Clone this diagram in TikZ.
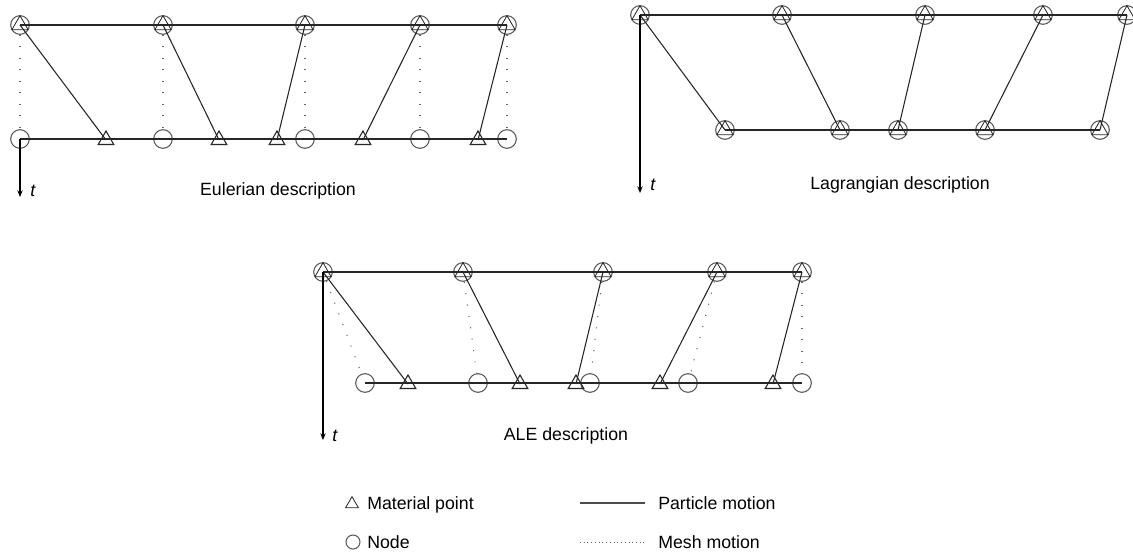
\documentclass[tikz,border=0pt]{standalone}
\usepackage{fontspec}
\setmainfont{Liberation Sans}
\usetikzlibrary{shapes.geometric, arrows.meta, positioning}
\tikzset{
    meshnode/.style={
        circle,
        draw=black!65,
        line width=0.8pt,
        minimum size=14pt,
        inner sep=0pt
    },
    matpoint/.style={
        regular polygon,
        regular polygon sides=3,
        draw=black!85,
        line width=0.8pt,
        minimum size=13.5pt,
        inner sep=0pt
    },
    inpoint/.style={
        matpoint,
        minimum size=14pt,
        line width=0.6pt
    },
    grid/.style={
        line width=1.5pt, black!85
    },
    particle/.style={
        line width=0.8pt, black!85
    },
    mesh/.style={
        black!60, line width=0.8pt, dash pattern=on 0.8pt off 7.8pt
    },
    taxis/.style={
        line width=0.9pt, -{Stealth[length=5pt,width=4pt]}
    },
    caption/.style={
        font=\fontsize{13.3}{16}\selectfont,
        inner sep=0pt
    }
}

\begin{document}
\begin{tikzpicture}[x=0.75pt, y=-0.75pt]

\path [fill=white, use as bounding box] (0,0) rectangle (1133,558);

% Eulerian description
\node (e1) [meshnode] at (20,25) {};
\node (e1p) [inpoint] at (e1) {};
\node (e2) [meshnode] at (163,25) {};
\node (e2p) [inpoint] at (e2) {};
\node (e3) [meshnode] at (305,25) {};
\node (e3p) [inpoint] at (e3) {};
\node (e4) [meshnode] at (420,25) {};
\node (e4p) [inpoint] at (e4) {};
\node (e5) [meshnode] at (507,25) {};
\node (e5p) [inpoint] at (e5) {};

\node (f1) [meshnode] at (20,139) {};
\node (f2) [meshnode] at (163,139) {};
\node (f3) [meshnode] at (305,139) {};
\node (f4) [meshnode] at (420,139) {};
\node (f5) [meshnode] at (507,139) {};

\node (g1) [matpoint] at (106,140) {};
\node (g2) [matpoint] at (219,140) {};
\node (g3) [matpoint] at (277,140) {};
\node (g4) [matpoint] at (363,140) {};
\node (g5) [matpoint] at (478,140) {};

\draw [grid] (e1.center) -- (e5.center);
\draw [grid] (f1.center) -- (f5.center);

\draw [mesh] (e1) -- (f1);
\draw [mesh] (e2) -- (f2);
\draw [mesh] (e3) -- (f3);
\draw [mesh] (e4) -- (f4);
\draw [mesh] (e5) -- (f5);

\draw [particle] (e1.center) -- (g1.center);
\draw [particle] (e2.center) -- (g2.center);
\draw [particle] (e3.center) -- (g3.center);
\draw [particle] (e4.center) -- (g4.center);
\draw [particle] (e5.center) -- (g5.center);

\coordinate (etip) at (20,197);
\draw [taxis] (f1.center) -- (etip);
\node (elabel) [caption, anchor=base west] at (30,196) {\textit{t}};
\node (ecap) [caption, anchor=base] at (278,195) {Eulerian description};

% Lagrangian description
\node (l1) [meshnode] at (640,15) {};
\node (l1p) [inpoint] at (l1) {};
\node (l2) [meshnode] at (782,15) {};
\node (l2p) [inpoint] at (l2) {};
\node (l3) [meshnode] at (925,15) {};
\node (l3p) [inpoint] at (l3) {};
\node (l4) [meshnode] at (1043,15) {};
\node (l4p) [inpoint] at (l4) {};
\node (l5) [meshnode] at (1127,15) {};
\node (l5p) [inpoint] at (l5) {};

\node (m1) [meshnode] at (725,130) {};
\node (m1p) [inpoint] at (m1) {};
\node (m2) [meshnode] at (840,130) {};
\node (m2p) [inpoint] at (m2) {};
\node (m3) [meshnode] at (898,130) {};
\node (m3p) [inpoint] at (m3) {};
\node (m4) [meshnode] at (985,130) {};
\node (m4p) [inpoint] at (m4) {};
\node (m5) [meshnode] at (1100,130) {};
\node (m5p) [inpoint] at (m5) {};

\draw [grid] (l1.center) -- (l5.center);
\draw [grid] (m1.center) -- (m5.center);

\draw [particle] (l1.center) -- (m1.center);
\draw [particle] (l2.center) -- (m2.center);
\draw [particle] (l3.center) -- (m3.center);
\draw [particle] (l4.center) -- (m4.center);
\draw [particle] (l5.center) -- (m5.center);

\coordinate (ltip) at (640,193);
\draw [taxis] (l1.center) -- (ltip);
\node (llabel) [caption, anchor=base west] at (650,190) {\textit{t}};
\node (lcap) [caption, anchor=base] at (900,189) {Lagrangian description};

% ALE description
\node (a1) [meshnode] at (323,272) {};
\node (a1p) [inpoint] at (a1) {};
\node (a2) [meshnode] at (463,272) {};
\node (a2p) [inpoint] at (a2) {};
\node (a3) [meshnode] at (603,272) {};
\node (a3p) [inpoint] at (a3) {};
\node (a4) [meshnode] at (717,272) {};
\node (a4p) [inpoint] at (a4) {};
\node (a5) [meshnode] at (802,272) {};
\node (a5p) [inpoint] at (a5) {};

\node (b1) [meshnode] at (365,383) {};
\node (b2) [meshnode] at (478,383) {};
\node (b3) [meshnode] at (590,383) {};
\node (b4) [meshnode] at (688,383) {};
\node (b5) [meshnode] at (802,383) {};

\node (c1) [matpoint] at (408,384) {};
\node (c2) [matpoint] at (520,384) {};
\node (c3) [matpoint] at (576,384) {};
\node (c4) [matpoint] at (660,384) {};
\node (c5) [matpoint] at (773,384) {};

\draw [grid] (a1.center) -- (a5.center);
\draw [grid] (b1.center) -- (b5.center);

\draw [mesh] (a1) -- (b1);
\draw [mesh] (a2) -- (b2);
\draw [mesh] (a3) -- (b3);
\draw [mesh] (a4) -- (b4);
\draw [mesh] (a5) -- (b5);

\draw [particle] (a1.center) -- (c1.center);
\draw [particle] (a2.center) -- (c2.center);
\draw [particle] (a3.center) -- (c3.center);
\draw [particle] (a4.center) -- (c4.center);
\draw [particle] (a5.center) -- (c5.center);

\coordinate (atip) at (323,440);
\draw [taxis] (a1.center) -- (atip);
\node (alabel) [caption, anchor=base west] at (332,441) {\textit{t}};
\node (acap) [caption, anchor=base] at (566,440) {ALE description};

% legend
\node (keytri) [matpoint, minimum size=11pt, line width=0.6pt] at (352,504) {};
\node (keytritext) [caption, anchor=base west] at (367,509) {Material point};
\node (keycirc) [meshnode, minimum size=10.5pt] at (353,542) {};
\node (keycirctext) [caption, anchor=base west] at (367,548) {Node};

\coordinate (keyps) at (580,503);
\coordinate (keype) at (645,503);
\draw [particle, black!70] (keyps) -- (keype);
\node (keyptext) [caption, anchor=base west] at (658,509) {Particle motion};
\coordinate (keyms) at (580,542);
\coordinate (keyme) at (645,542);
\draw [mesh, dash pattern=on 0.6pt off 2.2pt, line width=0.6pt] (keyms) -- (keyme);
\node (keymtext) [caption, anchor=base west] at (658,548) {Mesh motion};

\end{tikzpicture}
\end{document}
